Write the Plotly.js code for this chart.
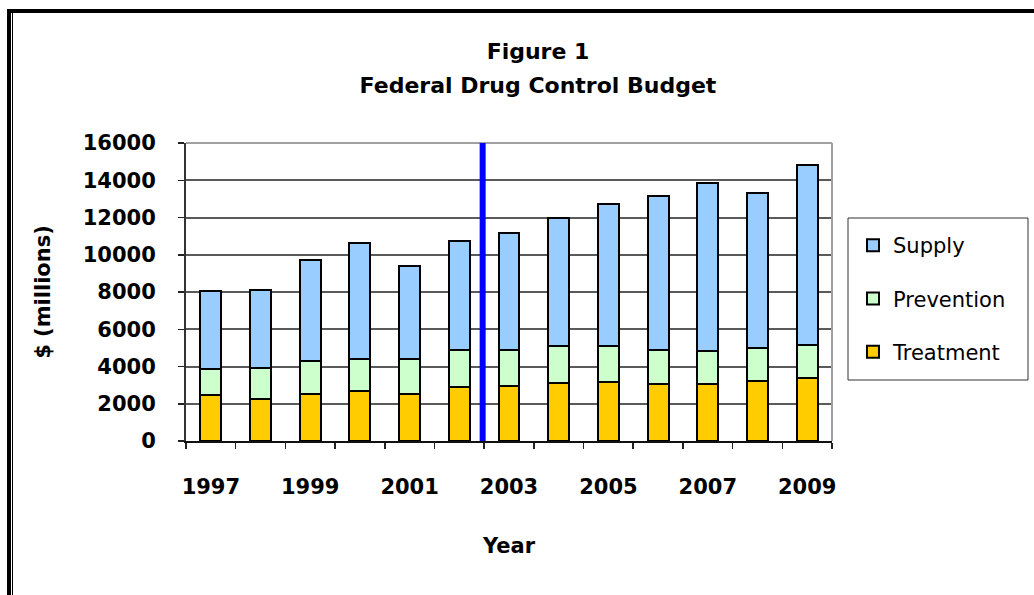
<!DOCTYPE html>
<html>
<head>
<meta charset="utf-8">
<script src="https://cdn.plot.ly/plotly-3.0.1.min.js"></script>
<style>
  html, body { margin: 0; padding: 0; background: #fff; }
  #wrap { position: relative; width: 1034px; height: 595px; overflow: hidden; }
  #chart { width: 1034px; height: 595px; }
  /* page frame: thick rule along top and left, thin inner rule on the left */
  .frame { position: absolute; background: #000; pointer-events: none; }
</style>
</head>
<body>
<div id="wrap">
  <div id="chart"></div>
  <div class="frame" style="left:7px; top:9px; width:1027px; height:4px;"></div>
  <div class="frame" style="left:7px; top:9px; width:4px; height:586px;"></div>
  <div class="frame" style="left:12px; top:13px; width:1px; height:582px;"></div>
</div>
<script>
// Federal drug control budget, $ millions, by fiscal year
const years = [1997, 1998, 1999, 2000, 2001, 2002, 2003, 2004, 2005, 2006, 2007, 2008, 2009];
const treatment  = [2470, 2270, 2520, 2680, 2540, 2900, 2950, 3090, 3160, 3040, 3040, 3240, 3400];
const prevention = [1410, 1640, 1750, 1740, 1880, 1980, 1940, 2000, 1930, 1860, 1790, 1730, 1770];
const supply     = [4160, 4180, 5430, 6200, 5000, 5850, 6260, 6860, 7650, 8240, 9030, 8330, 9650];

const seriesNames = ['Treatment', 'Prevention', 'Supply'];
const tickYears = [1997, 1999, 2001, 2003, 2005, 2007, 2009];
const yTicks = [0, 2000, 4000, 6000, 8000, 10000, 12000, 14000, 16000];
const budgetBreakYear = 2002.47;   // budget restructuring marker

const FONT = 'DejaVu Sans, Arial, sans-serif';
const outline = { color: '#000', width: 2 };

// plot area in pixels, used to place the legend box in paper units
const PLOT = { left: 186, right: 832, top: 143, bottom: 441 };
const px2x = p => (p - PLOT.left) / (PLOT.right - PLOT.left);
const px2y = p => (PLOT.bottom - p) / (PLOT.bottom - PLOT.top);

function barTrace(name, values, color, rank) {
  return {
    type: 'bar', name: name, x: years, y: values,
    legendgroup: name, legendrank: rank,
    marker: { color: color, line: outline },
    hoverinfo: 'x+y+name'
  };
}

// stacked bottom to top; legend lists Supply first
const data = [
  barTrace(seriesNames[0], treatment, '#FFCC00', 3),
  barTrace(seriesNames[1], prevention, '#CCFFCC', 2),
  barTrace(seriesNames[2], supply, '#99CCFF', 1)
];

// two-line heading: line spacing follows the outer font size, glyphs use the span size
const titleLine = s => '<span style="font-size:22px"><b>' + s + '</b></span>';

const layout = {
  width: 1034, height: 595,
  paper_bgcolor: '#fff', plot_bgcolor: '#fff',
  margin: { l: 186, r: 202, t: 143, b: 154, pad: 0 },
  barmode: 'stack',
  bargap: 0.58,
  font: { family: FONT, color: '#000' },
  title: {
    text: titleLine('Figure 1') + '<br>' + titleLine('Federal Drug Control Budget'),
    font: { family: FONT, size: 26, color: '#000' },
    xref: 'container', x: 538 / 1034, xanchor: 'center',
    yref: 'container', y: 1 - 59 / 595, yanchor: 'top'
  },
  xaxis: {
    type: 'linear',
    range: [1996.5, 2009.5],
    tickvals: tickYears,
    ticktext: tickYears.map(String),
    ticks: '',
    ticklabelstandoff: 26,
    tickfont: { family: FONT, size: 21, color: '#000', weight: 'bold' },
    minor: { tick0: 1996.5, dtick: 1, ticks: 'outside', ticklen: 6, tickwidth: 1.5, tickcolor: '#222', showgrid: false },
    showgrid: false, zeroline: false,
    showline: true, linecolor: '#111', linewidth: 2,
    automargin: false,
    title: { text: '<b>Year</b>', font: { family: FONT, size: 21, color: '#000' }, standoff: 40 },
    fixedrange: true
  },
  yaxis: {
    range: [0, 16000],
    tickvals: yTicks,
    ticktext: yTicks.map(String),
    ticks: 'outside', ticklen: 6, tickwidth: 1.5, tickcolor: '#222',
    ticklabelstandoff: 18,
    tickfont: { family: FONT, size: 21, color: '#000', weight: 'bold' },
    showgrid: true, gridcolor: '#5a5a5a', gridwidth: 2,
    zeroline: false,
    showline: true, linecolor: '#333', linewidth: 2,
    automargin: false,
    title: { text: '<b>$ (millions)</b>', font: { family: FONT, size: 21, color: '#000' }, standoff: 26 },
    fixedrange: true
  },
  legend: {
    x: px2x(853), xanchor: 'left',
    y: px2y(225), yanchor: 'top',
    bgcolor: 'rgba(0,0,0,0)', borderwidth: 0,
    font: { family: FONT, size: 21, color: '#000' },
    traceorder: 'grouped',
    tracegroupgap: 23
  },
  shapes: [
    // light frame on the top and right of the plot area
    { type: 'line', xref: 'paper', yref: 'paper', x0: 0, x1: 1, y0: 1, y1: 1, line: { color: '#a0a0a0', width: 2 } },
    { type: 'line', xref: 'paper', yref: 'paper', x0: 1, x1: 1, y0: 0, y1: 1, line: { color: '#a0a0a0', width: 2 } },
    // legend box
    { type: 'rect', xref: 'paper', yref: 'paper', x0: px2x(848), x1: px2x(1028), y0: px2y(380), y1: px2y(218),
      line: { color: '#333', width: 1 }, fillcolor: 'rgba(0,0,0,0)', layer: 'above' },
    // vertical marker between 2002 and 2003
    { type: 'line', xref: 'x', yref: 'y', x0: budgetBreakYear, x1: budgetBreakYear, y0: 0, y1: 16000,
      line: { color: '#0000FF', width: 6 }, layer: 'above' }
  ]
};

Plotly.newPlot('chart', data, layout, { displayModeBar: false, staticPlot: true });
</script>
</body>
</html>
